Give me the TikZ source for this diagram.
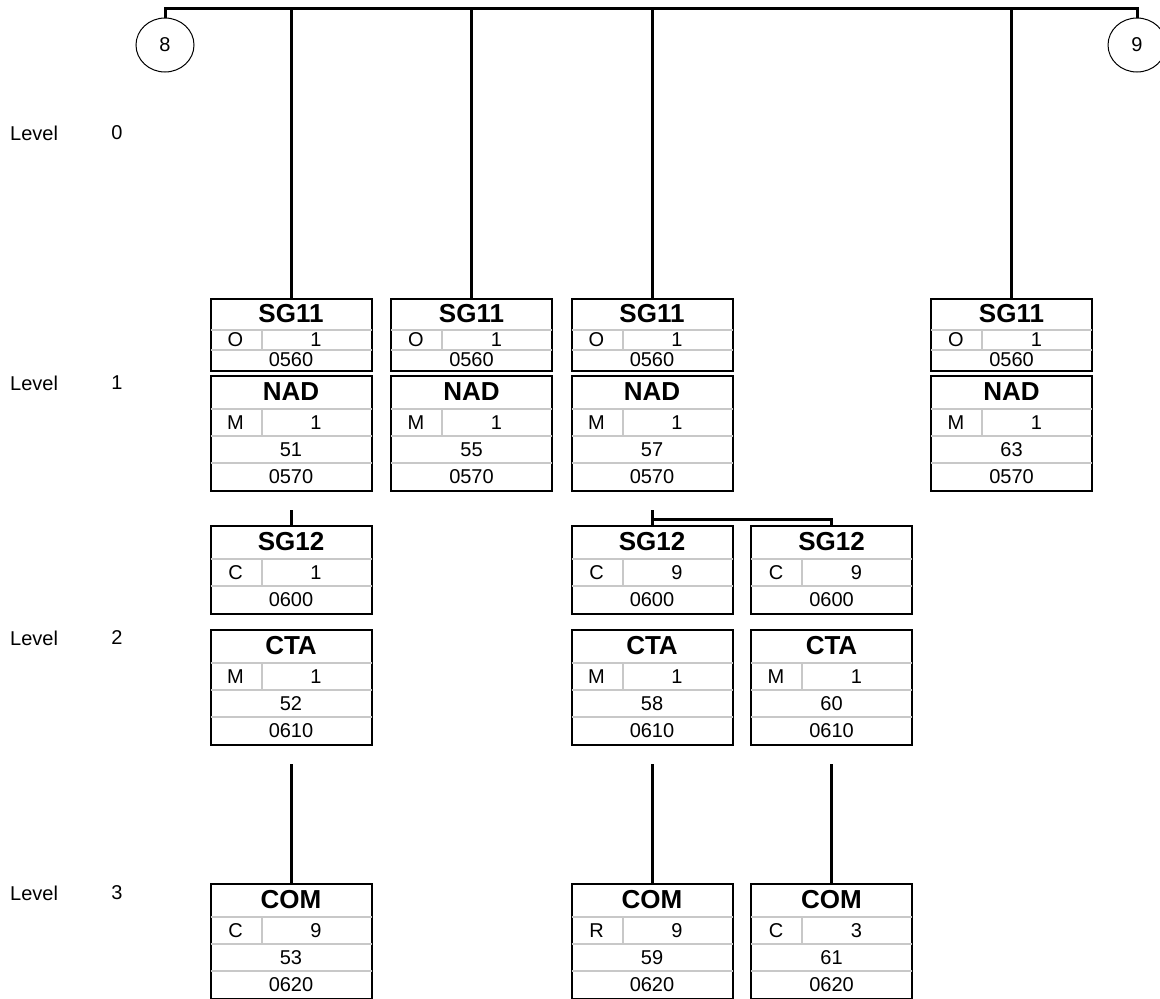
\documentclass[tikz,border=0pt]{standalone}
\usepackage{fontspec}
\setmainfont{Liberation Sans}
\usetikzlibrary{calc,shapes.geometric}
\definecolor{rowline}{RGB}{200,200,200}
\tikzset{
  segbox/.style={draw=black, line width=2pt, minimum width=161pt, inner sep=0pt},
  rowrule/.style={draw=rowline, line width=2pt},
  conn/.style={draw=black, line width=3pt},
  ttl/.style={font=\fontsize{26}{26}\selectfont\bfseries, inner sep=0pt},
  cell/.style={font=\fontsize{20}{20}\selectfont, inner sep=0pt},
  lvl/.style={font=\fontsize{20}{20}\selectfont, inner sep=0pt},
  circ/.style={draw=black, line width=1pt, ellipse, minimum width=58pt, minimum height=54pt, inner sep=0pt, font=\fontsize{20}{20}\selectfont}
}
% three-row box: name, cx, top, title, status, repeat, tag, title height, row height
\newcommand\segthree[9]{%
  \pgfmathsetmacro\ra{#8}%
  \pgfmathsetmacro\rb{#8+#9}%
  \pgfmathsetmacro\rc{#8+2*#9}%
  \node[segbox, minimum height=\rc pt, anchor=north] (#1) at (#2,#3) {};
  \draw[rowrule] ($(#1.north west)+(1,\ra)$) -- ($(#1.north east)+(-1,\ra)$);
  \draw[rowrule] ($(#1.north west)+(1,\rb)$) -- ($(#1.north east)+(-1,\rb)$);
  \draw[rowrule] ($(#1.north west)+(52,\ra+1)$) -- ($(#1.north west)+(52,\rb-1)$);
  \node[ttl] (#1-t) at ($(#1.north)+(0,\ra/2)$) {#4};
  \node[cell] (#1-s) at ($(#1.north west)+(26,\ra+#9/2)$) {#5};
  \node[cell] (#1-r) at ($(#1.north west)+(106.5,\ra+#9/2)$) {#6};
  \node[cell] (#1-g) at ($(#1.north)+(0,\rb+#9/2)$) {#7};
}
\newcommand\segfour[8]{%
  \node[segbox, minimum height=115pt, anchor=north] (#1) at (#2,#3) {};
  \draw[rowrule] ($(#1.north west)+(1,34)$) -- ($(#1.north east)+(-1,34)$);
  \draw[rowrule] ($(#1.north west)+(1,61)$) -- ($(#1.north east)+(-1,61)$);
  \draw[rowrule] ($(#1.north west)+(1,88)$) -- ($(#1.north east)+(-1,88)$);
  \draw[rowrule] ($(#1.north west)+(52,35)$) -- ($(#1.north west)+(52,60)$);
  \node[ttl] (#1-t) at ($(#1.north)+(0,17)$) {#4};
  \node[cell] (#1-s) at ($(#1.north west)+(26,47.5)$) {#5};
  \node[cell] (#1-r) at ($(#1.north west)+(106.5,47.5)$) {#6};
  \node[cell] (#1-p) at ($(#1.north)+(0,74.5)$) {#7};
  \node[cell] (#1-g) at ($(#1.north)+(0,101.5)$) {#8};
}
\begin{document}
\begin{tikzpicture}[x=1pt,y=-1pt]
\useasboundingbox (0,0) rectangle (1160,999);
% level labels
\foreach \n/\yy in {0/133,1/383,2/638,3/893}{
  \node[lvl, anchor=west] (lv\n) at (10,\yy) {Level};
  \node[lvl] (ln\n) at (117,\yy) {\n};
}
% circles
\node[circ] (c8) at (165,45) {8};
\node[circ] (c9) at (1137,45) {9};
\coordinate (top) at (0,8.5);
% boxes
\segthree{sga}{291}{298}{SG11}{O}{1}{0560}{32}{20}
\segthree{sgb}{471.5}{298}{SG11}{O}{1}{0560}{32}{20}
\segthree{sgc}{652}{298}{SG11}{O}{1}{0560}{32}{20}
\segthree{sgd}{1011.5}{298}{SG11}{O}{1}{0560}{32}{20}
\segfour{nada}{291}{375}{NAD}{M}{1}{51}{0570}
\segfour{nadb}{471.5}{375}{NAD}{M}{1}{55}{0570}
\segfour{nadc}{652}{375}{NAD}{M}{1}{57}{0570}
\segfour{nadd}{1011.5}{375}{NAD}{M}{1}{63}{0570}
\segthree{sg12a}{291}{525}{SG12}{C}{1}{0600}{34}{27}
\segthree{sg12c}{652}{525}{SG12}{C}{9}{0600}{34}{27}
\segthree{sg12e}{831.5}{525}{SG12}{C}{9}{0600}{34}{27}
\segfour{ctaa}{291}{629}{CTA}{M}{1}{52}{0610}
\segfour{ctac}{652}{629}{CTA}{M}{1}{58}{0610}
\segfour{ctae}{831.5}{629}{CTA}{M}{1}{60}{0610}
\segfour{coma}{291}{883}{COM}{C}{9}{53}{0620}
\segfour{comc}{652}{883}{COM}{R}{9}{59}{0620}
\segfour{come}{831.5}{883}{COM}{C}{3}{61}{0620}
% connectors
\draw[conn, line join=miter] (c8.north) -- (c8.north |- top) -- (c9.north |- top) -- (c9.north);
\foreach \b in {sga,sgb,sgc,sgd}{
  \draw[conn] (\b.north |- top) -- (\b.north);
}
\draw[conn] ($(nada.south)+(0,18)$) -- (sg12a.north);
\draw[conn] ($(nadc.south)+(0,18)$) -- (sg12c.north);
\draw[conn, line join=miter] ($(nadc.south)+(0,27)$) -| (sg12e.north);
\draw[conn] ($(ctaa.south)+(0,18)$) -- (coma.north);
\draw[conn] ($(ctac.south)+(0,18)$) -- (comc.north);
\draw[conn] ($(ctae.south)+(0,18)$) -- (come.north);
\end{tikzpicture}
\end{document}
